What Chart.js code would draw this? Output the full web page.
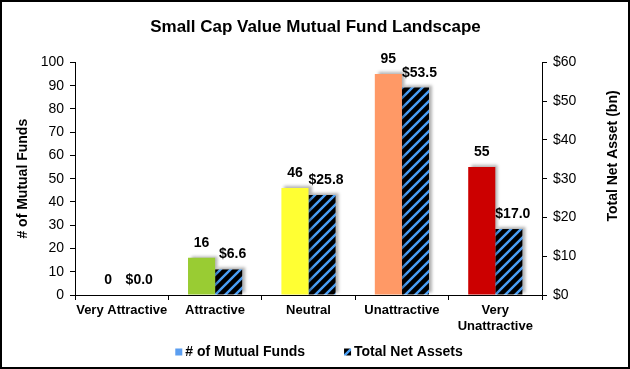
<!DOCTYPE html>
<html>
<head>
<meta charset="utf-8">
<script src="https://cdn.jsdelivr.net/npm/chart.js@4"></script>
<style>
  html, body { margin: 0; padding: 0; background: #fff; }
  #wrap { width: 630px; height: 369px; position: relative; }
</style>
</head>
<body>
<div id="wrap"><canvas id="chartLandscape"></canvas></div>
<script>
// Data
const categories = ['Very Attractive', 'Attractive', 'Neutral', 'Unattractive', ['Very', 'Unattractive']];
const fundCounts = [0, 16, 46, 95, 55];
const netAssets = [0.0, 6.6, 25.8, 53.5, 17.0];
const fundColors = ['#2e8b2e', '#99cc33', '#ffff33', '#ff9966', '#cc0000'];
const seriesNames = ['# of Mutual Funds', 'Total Net Assets'];

const FONT = "'Liberation Sans', Arial, Helvetica, sans-serif";
const LEGEND_BLUE = '#5b9ef0';

// Black bars with blue diagonal stripes
function makeStripes() {
    const s = 10;
    const c = document.createElement('canvas');
    c.width = s; c.height = s;
    const g = c.getContext('2d');
    g.fillStyle = '#000';
    g.fillRect(0, 0, s, s);
    g.strokeStyle = '#4a9ff5';
    g.lineWidth = 2.4;
    g.beginPath();
    g.moveTo(-1, s + 1); g.lineTo(s + 1, -1);
    g.moveTo(-s / 2 - 1, s / 2 + 1); g.lineTo(s / 2 + 1, -s / 2 - 1);
    g.moveTo(s / 2 - 1, s * 1.5 + 1); g.lineTo(s * 1.5 + 1, s / 2 - 1);
    g.stroke();
    return g.createPattern(c, 'repeat');
}
const stripes = makeStripes();

// Drop shadow behind the bars
const barShadow = {
    id: 'barShadow',
    beforeDatasetsDraw(chart) {
        const ctx = chart.ctx;
        ctx.save();
        ctx.shadowColor = 'rgba(0,0,0,0.3)';
        ctx.shadowBlur = 3;
        ctx.shadowOffsetX = 3;
        ctx.shadowOffsetY = -2;
    },
    afterDatasetsDraw(chart) {
        chart.ctx.restore();
    }
};

// Value labels above bars
const valueLabels = {
    id: 'valueLabels',
    afterDatasetsDraw(chart) {
        const ctx = chart.ctx;
        ctx.save();
        ctx.font = "bold 14px " + FONT;
        ctx.fillStyle = '#000';
        ctx.textAlign = 'center';
        ctx.textBaseline = 'alphabetic';
        chart.data.datasets.forEach((ds, i) => {
            chart.getDatasetMeta(i).data.forEach((bar, j) => {
                const v = ds.data[j];
                const txt = i === 0 ? String(v) : '$' + v.toFixed(1);
                ctx.fillText(txt, bar.x + (i === 0 ? 0 : 4), bar.y - 11);
            });
        });
        ctx.restore();
    }
};

// Right-hand axis title (reads bottom to top like the left one), legend and frame
const extras = {
    id: 'extras',
    afterDraw(chart) {
        const ctx = chart.ctx;
        ctx.save();
        ctx.fillStyle = '#000';
        ctx.font = "bold 14px " + FONT;
        ctx.textAlign = 'center';
        ctx.textBaseline = 'middle';
        ctx.translate(613, 156);
        ctx.rotate(-Math.PI / 2);
        ctx.fillText('Total Net Asset (bn)', 0, 0);
        ctx.restore();

        // legend
        ctx.save();
        ctx.font = "bold 14px " + FONT;
        ctx.textBaseline = 'middle';
        ctx.textAlign = 'left';
        const box = 7, gap = 3, between = 39, y = 352;
        const w0 = ctx.measureText(seriesNames[0]).width;
        const w1 = ctx.measureText(seriesNames[1]).width;
        const total = box + gap + w0 + between + box + gap + w1;
        let x = 319 - total / 2;
        ctx.fillStyle = LEGEND_BLUE;
        ctx.fillRect(x, y - box / 2, box, box);
        ctx.fillStyle = '#000';
        ctx.fillText(seriesNames[0], x + box + gap, y);
        x += box + gap + w0 + between;
        ctx.fillStyle = stripes;
        ctx.fillRect(x, y - box / 2, box, box);
        ctx.fillStyle = '#000';
        ctx.fillText(seriesNames[1], x + box + gap, y);
        ctx.restore();

        ctx.save();
        ctx.strokeStyle = '#000';
        ctx.lineWidth = 2;
        ctx.strokeRect(1, 1, chart.width - 2, chart.height - 2);
        ctx.restore();
    }
};

const axisGrid = {
    drawOnChartArea: false,
    color: '#000',
    tickLength: 5,
    tickColor: '#000'
};

const ctx = document.getElementById('chartLandscape').getContext('2d');
new Chart(ctx, {
    type: 'bar',
    data: {
        labels: categories,
        datasets: [{
            label: seriesNames[0],
            data: fundCounts,
            backgroundColor: fundColors,
            yAxisID: 'y',
            categoryPercentage: 0.58,
            barPercentage: 1.0
        }, {
            label: seriesNames[1],
            data: netAssets,
            backgroundColor: stripes,
            yAxisID: 'y1',
            categoryPercentage: 0.58,
            barPercentage: 1.0
        }]
    },
    plugins: [barShadow, valueLabels, extras],
    options: {
        responsive: true,
        maintainAspectRatio: false,
        animation: false,
        layout: { padding: { left: 11, right: 10, top: 0, bottom: 34 } },
        plugins: {
            title: {
                display: true,
                text: 'Small Cap Value Mutual Fund Landscape',
                color: '#000',
                font: { family: FONT, size: 17, weight: 'bold' },
                padding: { top: 17, bottom: 25 }
            },
            legend: { display: false },
            tooltip: { enabled: false }
        },
        scales: {
            x: {
                grid: { ...axisGrid, offset: true },
                border: { color: '#000', width: 1 },
                ticks: {
                    color: '#000',
                    font: { family: FONT, size: 13, weight: 'bold' },
                    maxRotation: 0,
                    autoSkip: false,
                    padding: 3
                },
                afterFit(s) { s.height = 40; }
            },
            y: {
                position: 'left',
                min: 0,
                max: 100,
                grid: axisGrid,
                border: { color: '#000', width: 1 },
                ticks: {
                    stepSize: 10,
                    color: '#000',
                    font: { family: FONT, size: 14 },
                    padding: 6
                },
                title: {
                    display: true,
                    text: seriesNames[0],
                    color: '#000',
                    font: { family: FONT, size: 14, weight: 'bold' },
                    padding: { top: 4, bottom: 6 }
                },
                afterFit(s) { s.width = 64; }
            },
            y1: {
                position: 'right',
                min: 0,
                max: 60,
                grid: axisGrid,
                border: { color: '#000', width: 1 },
                ticks: {
                    stepSize: 10,
                    color: '#000',
                    font: { family: FONT, size: 14 },
                    padding: 6,
                    callback: v => '$' + v
                },
                afterFit(s) { s.width = 78; }
            }
        }
    }
});
</script>
</body>
</html>
